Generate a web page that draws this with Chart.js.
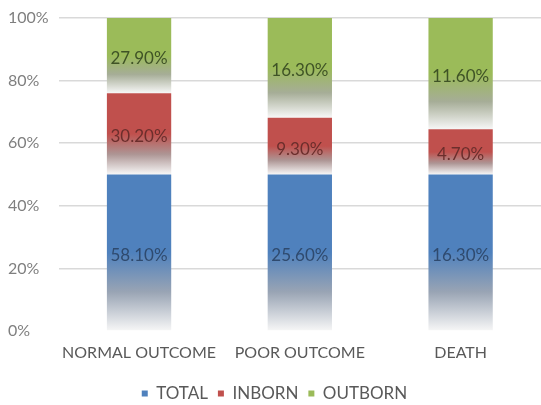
<!DOCTYPE html>
<html>
<head>
<meta charset="utf-8">
<script src="https://cdn.jsdelivr.net/npm/chart.js@4"></script>
<style>
  html, body { margin: 0; background: #fff; }
  #wrap { width: 541px; height: 405px; }
</style>
</head>
<body>
<div id="wrap"><canvas id="outcomes"></canvas></div>
<script>
// outcome groups and the raw percentages for each birth place
const OUTCOMES = ['NORMAL OUTCOME', 'POOR OUTCOME', 'DEATH'];
const TOTAL = [58.1, 25.6, 16.3];
const INBORN = [30.2, 9.3, 4.7];
const OUTBORN = [27.9, 16.3, 11.6];
const SERIES = ['TOTAL', 'INBORN', 'OUTBORN'];
const Y_TICKS = [0, 20, 40, 60, 80, 100];

const RAW = [TOTAL, INBORN, OUTBORN];
const BASE = ['#4f81bd', '#c0504d', '#9bbb59'];
const GREY = ['#99a4b4', '#ad9594', '#a6ad97'];
const INK = ['#2f4a6e', '#6b2e2c', '#3f5326'];

// each column is stacked to 100%
const sums = OUTCOMES.map((_, i) => RAW.reduce((s, r) => s + r[i], 0));
const shares = RAW.map(r => r.map((v, i) => v / sums[i] * 100));

function segmentFill(d) {
  return ctx => {
    const chart = ctx.chart;
    if (!chart.chartArea || ctx.type !== 'data') return BASE[d];
    const i = ctx.dataIndex;
    let lo = 0;
    for (let k = 0; k < d; k++) lo += shares[k][i];
    const hi = lo + shares[d][i];
    const y = chart.scales.y;
    const top = y.getPixelForValue(hi), bot = y.getPixelForValue(lo);
    const g = chart.ctx.createLinearGradient(0, top, 0, bot);
    g.addColorStop(0, BASE[d]);
    g.addColorStop(0.5, BASE[d]);
    g.addColorStop(0.75, GREY[d]);
    g.addColorStop(1, '#f7f7f7');
    return g;
  };
}

const valueLabels = {
  id: 'valueLabels',
  afterDatasetsDraw(chart) {
    const c = chart.ctx;
    c.save();
    c.font = '17px Lato';
    c.textAlign = 'center';
    c.textBaseline = 'middle';
    chart.data.datasets.forEach((ds, d) => {
      chart.getDatasetMeta(d).data.forEach((bar, i) => {
        c.fillStyle = INK[d];
        c.fillText(RAW[d][i].toFixed(2) + '%', bar.x, (bar.y + bar.base) / 2 + 3);
      });
    });
    c.restore();
  }
};

new Chart(document.getElementById('outcomes'), {
  type: 'bar',
  data: {
    labels: OUTCOMES,
    datasets: SERIES.map((name, d) => ({
      label: name,
      data: shares[d],
      backgroundColor: segmentFill(d),
      borderWidth: 0,
      categoryPercentage: 1,
      barPercentage: 0.4,
    })),
  },
  options: {
    responsive: true,
    maintainAspectRatio: false,
    animation: false,
    layout: { padding: { left: 8, right: 0, top: 18, bottom: -7 } },
    plugins: {
      tooltip: { enabled: false },
      legend: {
        position: 'bottom',
        labels: {
          color: '#595959',
          font: { family: 'Lato', size: 17 },
          usePointStyle: true,
          pointStyle: 'rect',
          boxWidth: 6,
          boxHeight: 6,
          padding: 10,
          generateLabels: chart => SERIES.map((name, d) => ({
            text: name,
            fillStyle: BASE[d],
            strokeStyle: BASE[d],
            lineWidth: 0,
            pointStyle: 'rect',
            fontColor: '#595959',
            datasetIndex: d,
          })),
        },
      },
    },
    scales: {
      x: {
        stacked: true,
        grid: { display: false },
        border: { display: false },
        ticks: { color: '#595959', font: { family: 'Lato', size: 16 }, padding: 4 },
        afterFit: axis => { axis.height = 44; },
      },
      y: {
        stacked: true,
        min: 0,
        max: 100,
        afterBuildTicks: axis => { axis.ticks = Y_TICKS.map(v => ({ value: v })); },
        border: { display: false },
        grid: {
          color: ctx => ctx.tick && ctx.tick.value === 0 ? 'rgba(0,0,0,0)' : '#d9d9d9',
          lineWidth: 1.5,
          drawTicks: false,
        },
        ticks: {
          color: '#7f7f7f',
          font: { family: 'Lato', size: 16 },
          crossAlign: 'far',
          padding: 5,
          callback: v => v + '%',
        },
      },
    },
  },
  plugins: [valueLabels],
});
</script>
</body>
</html>
